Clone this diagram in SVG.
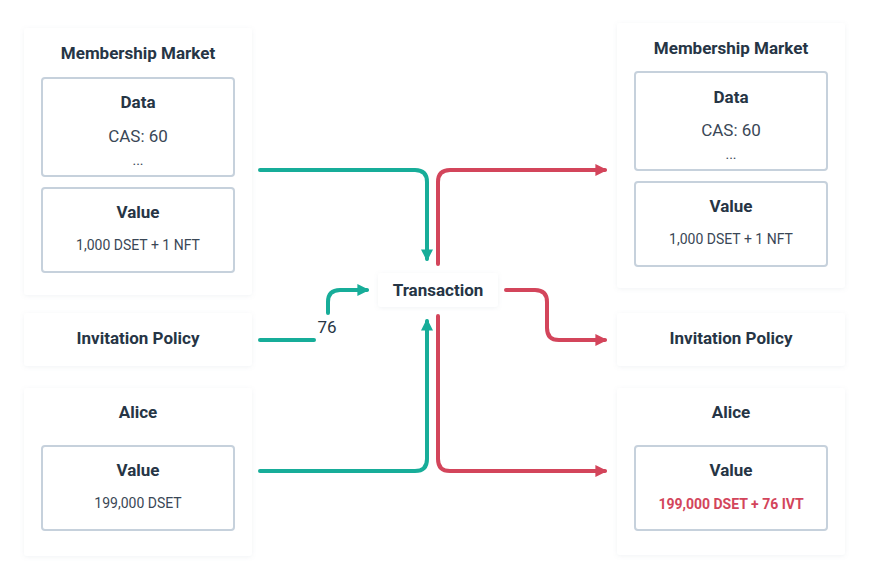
<svg xmlns="http://www.w3.org/2000/svg" width="869" height="580" viewBox="0 0 869 580">
<style>
.card{fill:#fff;filter:url(#sh)}
.box{fill:#fff;stroke:#c6d1dc;stroke-width:2}
.t{font-family:Roboto,"Liberation Sans",sans-serif;font-weight:bold;font-size:17px;fill:#263545;text-anchor:middle;dominant-baseline:central}
.v{font-family:Roboto,"Liberation Sans",sans-serif;font-size:14px;fill:#3a4756;text-anchor:middle;dominant-baseline:central}
.c{font-family:Roboto,"Liberation Sans",sans-serif;font-size:17px;fill:#3a4756;text-anchor:middle;dominant-baseline:central}
.red{fill:#d3455b;font-weight:bold}
.g{fill:none;stroke:#17ad99;stroke-width:4;stroke-linecap:round}
.r{fill:none;stroke:#d3455b;stroke-width:4;stroke-linecap:round}
</style>
<defs>
<filter id="sh" x="-10%" y="-10%" width="120%" height="120%">
<feDropShadow dx="0" dy="1" stdDeviation="2" flood-color="#8a9bb0" flood-opacity="0.12"/>
</filter>
<marker id="ag" viewBox="0 0 10 10" refX="8" refY="5" markerWidth="3" markerHeight="3" orient="auto" markerUnits="strokeWidth"><path d="M0,0 L10,5 L0,10 z" fill="#17ad99"/></marker>
<marker id="ar" viewBox="0 0 10 10" refX="8" refY="5" markerWidth="3" markerHeight="3" orient="auto" markerUnits="strokeWidth"><path d="M0,0 L10,5 L0,10 z" fill="#d3455b"/></marker>
</defs>

<g id="in-market">
<rect class="card" x="24" y="28" width="228" height="267" rx="3"/>
<text class="t" x="138" y="53">Membership Market</text>
<rect class="box" x="42" y="78" width="192" height="98" rx="3"/>
<text class="t" x="138" y="102">Data</text>
<text class="c" x="138" y="136">CAS: 60</text>
<text class="v" x="138" y="160">...</text>
<rect class="box" x="42" y="188" width="192" height="84" rx="3"/>
<text class="t" x="138" y="212">Value</text>
<text class="v" x="138" y="245">1,000 DSET + 1 NFT</text>
</g>

<g id="in-policy">
<rect class="card" x="24" y="313" width="228" height="53" rx="3"/>
<text class="t" x="138" y="338">Invitation Policy</text>
</g>

<g id="in-alice">
<rect class="card" x="24" y="388" width="228" height="168" rx="3"/>
<text class="t" x="138" y="412">Alice</text>
<rect class="box" x="42" y="446" width="192" height="84" rx="3"/>
<text class="t" x="138" y="470">Value</text>
<text class="v" x="138" y="503">199,000 DSET</text>
</g>

<g id="transaction">
<rect class="card" x="378" y="273" width="120" height="34" rx="3"/>
<text class="t" x="438" y="290">Transaction</text>
</g>

<g id="out-market">
<rect class="card" x="617" y="23" width="228" height="265" rx="3"/>
<text class="t" x="731" y="48">Membership Market</text>
<rect class="box" x="635" y="72" width="192" height="98" rx="3"/>
<text class="t" x="731" y="97">Data</text>
<text class="c" x="731" y="130">CAS: 60</text>
<text class="v" x="731" y="154">...</text>
<rect class="box" x="635" y="182" width="192" height="84" rx="3"/>
<text class="t" x="731" y="206">Value</text>
<text class="v" x="731" y="239">1,000 DSET + 1 NFT</text>
</g>

<g id="out-policy">
<rect class="card" x="617" y="313" width="228" height="53" rx="3"/>
<text class="t" x="731" y="338">Invitation Policy</text>
</g>

<g id="out-alice">
<rect class="card" x="617" y="388" width="228" height="167" rx="3"/>
<text class="t" x="731" y="412">Alice</text>
<rect class="box" x="635" y="446" width="192" height="84" rx="3"/>
<text class="t" x="731" y="470">Value</text>
<text class="v red" x="731" y="504">199,000 DSET + 76 IVT</text>
</g>

<g id="connectors">
<path class="g" d="M260,170 H415 Q427,170 427,182 V259" marker-end="url(#ag)"/>
<path class="g" d="M260,340 H314"/>
<path class="g" d="M328,313 V302 Q328,290 340,290 H367" marker-end="url(#ag)"/>
<path class="g" d="M260,471 H415 Q427,471 427,459 V321" marker-end="url(#ag)"/>
<path class="r" d="M438,264 V182 Q438,170 450,170 H605" marker-end="url(#ar)"/>
<path class="r" d="M506,290 H535 Q547,290 547,302 V328 Q547,340 559,340 H605" marker-end="url(#ar)"/>
<path class="r" d="M438,316 V459 Q438,471 450,471 H605" marker-end="url(#ar)"/>
<text class="c" x="327" y="327" style="font-size:17px;fill:#263545">76</text>
</g>
</svg>
